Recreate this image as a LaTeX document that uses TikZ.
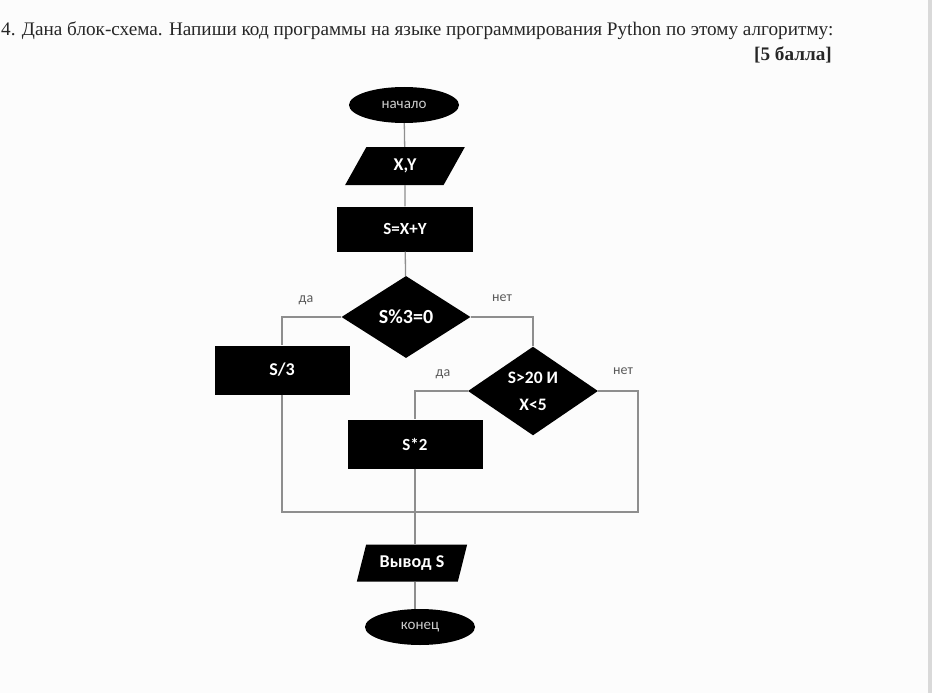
\documentclass[tikz,border=0pt]{standalone}
\usepackage{fontspec}
\setmainfont{Liberation Serif}
\newfontfamily\boxfont{Carlito}
\usetikzlibrary{shapes.geometric}
\definecolor{pagebg}{HTML}{FCFCFC}
\definecolor{flowline}{HTML}{8E8E8E}
\definecolor{edgestrip}{HTML}{D9D9D9}
\definecolor{labelgray}{HTML}{5A5A5A}
\definecolor{inkgray}{HTML}{262626}
\tikzset{
  blk/.style={fill=black, text=white, inner sep=0pt, font=\boxfont\bfseries\fontsize{17}{19}\selectfont},
  term/.style={blk, ellipse, minimum width=110pt, minimum height=36pt,
    text=white!80!black, font=\boxfont\fontsize{15}{17}\selectfont},
  io/.style={blk, trapezium, trapezium left angle=66, trapezium right angle=114,
    trapezium stretches=true, minimum width=120pt, minimum height=38pt,
    font=\boxfont\bfseries\fontsize{18}{20}\selectfont},
  proc/.style={blk, rectangle, minimum width=136pt, minimum height=45pt},
  cond/.style={blk, diamond, minimum width=129pt, minimum height=82pt, align=center},
  flow/.style={draw=flowline, line width=1.3pt},
  answer/.style={text=labelgray, font=\boxfont\fontsize{14}{16}\selectfont}
}
\begin{document}
\begin{tikzpicture}[x=1pt,y=-1pt]
\fill[pagebg] (0,0) rectangle (932,693);
\fill[edgestrip] (928,0) rectangle (932,693);
\useasboundingbox (0,0) rectangle (932,693);
% task text
\node[anchor=base west, inner sep=0pt, text=inkgray, font=\fontsize{19.2}{21}\selectfont] (task) at (1,36)
  {4. Дана блок-схема. Напиши код программы на языке программирования Python по этому алгоритму:};
\node[anchor=base east, inner sep=0pt, text=inkgray, font=\bfseries\fontsize{19.2}{21}\selectfont] (points) at (832,61) {[5 балла]};
% blocks
\node[term] (start) at (404,105) {начало};
\node[io] (inp) at (405,166) {X,Y};
\node[proc] (sum) at (405,229) {S=X+Y};
\node[cond, font=\boxfont\bfseries\fontsize{20}{22}\selectfont] (mod3) at (406,317) {S\%3=0};
\node[proc, minimum height=49pt, minimum width=135pt, font=\boxfont\bfseries\fontsize{18}{20}\selectfont] (div3) at (282,370) {S/3};
\node[cond, minimum width=130pt, minimum height=81pt, font=\boxfont\bfseries\fontsize{17.5}{27}\selectfont] (both) at (533,391) {S>20 И\\X<5};
\node[proc, minimum height=49pt, minimum width=135pt] (dbl) at (415,444) {S*2};
\node[io, minimum height=37pt, minimum width=111pt] (out) at (412,563) {Вывод S};
\node[term] (stop) at (420,627) {конец};
\coordinate (join) at (415,512);
\coordinate (rjoin) at (638,512);
% connectors
\draw[flow] (start) -- (inp);
\draw[flow] (inp) -- (sum);
\draw[flow] (sum) -- (mod3);
\draw[flow] (mod3.west) -| (div3.north);
\draw[flow] (mod3.east) -| (both.north);
\draw[flow] (both.west) -| (dbl.north);
\draw[flow] (both.east) -| (rjoin) -- (join);
\draw[flow] (div3.south) |- (join);
\draw[flow] (dbl.south) -- (join);
\draw[flow] (join) -- (join |- out.north);
\draw[flow] (join |- out.south) -- (join |- stop.north);
% branch labels
\node[answer] (yes1) at (306,300) {да};
\node[answer] (no1) at (502,298) {нет};
\node[answer] (yes2) at (443,374) {да};
\node[answer] (no2) at (623,371) {нет};
\end{tikzpicture}
\end{document}
